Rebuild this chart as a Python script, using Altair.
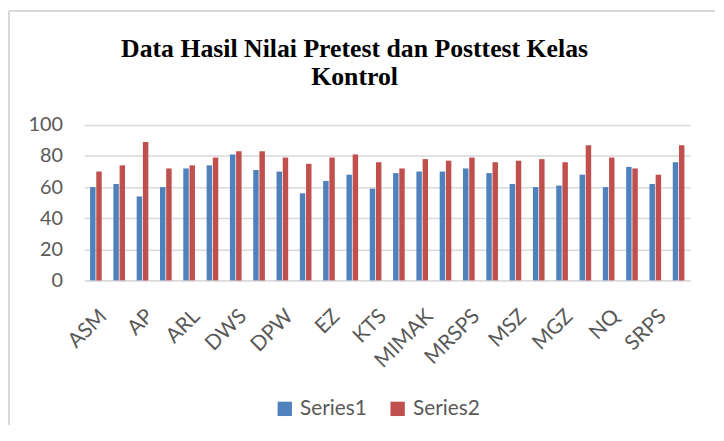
import altair as alt
import pandas as pd

labels = ["ASM", "", "AP", "", "ARL", "", "DWS", "", "DPW", "", "EZ", "", "KTS", "",
          "MIMAK", "", "MRSPS", "", "MSZ", "", "MGZ", "", "NQ", "", "SRPS", ""]
series1 = [60, 62, 54, 60, 72, 74, 81, 71, 70, 56, 64, 68, 59, 69, 70, 70, 72, 69, 62, 60, 61, 68, 60, 73, 62, 76]
series2 = [70, 74, 89, 72, 74, 79, 83, 83, 79, 75, 79, 81, 76, 72, 78, 77, 79, 76, 77, 78, 76, 87, 79, 72, 68, 87]
series_names = ["Series1", "Series2"]
colors = ["#4f81bd", "#c0504d"]
title_lines = ["Data Hasil Nilai Pretest dan Posttest Kelas", "Kontrol"]

rows = []
for i in range(len(labels)):
    rows.append({"No": i + 1, "Series": series_names[0], "Nilai": series1[i]})
    rows.append({"No": i + 1, "Series": series_names[1], "Nilai": series2[i]})
df = pd.DataFrame(rows)

W, H = 612, 157
label_expr = "[" + ",".join("'" + l + "'" for l in labels) + "][datum.value - 1]"

bars = alt.Chart(df).mark_bar().encode(
    x=alt.X("No:O",
            scale=alt.Scale(paddingInner=0.5, paddingOuter=0.25),
            axis=alt.Axis(title=None, labelAngle=-45, labelExpr=label_expr,
                          labelFont="Lato", labelFontSize=21, labelColor="#595959",
                          labelPadding=25, ticks=False, domainColor="#d9d9d9",
                          domainWidth=1.5, labelOverlap=False)),
    xOffset=alt.XOffset("Series:N", scale=alt.Scale(paddingInner=0.12)),
    y=alt.Y("Nilai:Q", scale=alt.Scale(domain=[0, 100], nice=False),
            axis=alt.Axis(title=None, values=[0, 20, 40, 60, 80, 100],
                          labelFont="Lato", labelFontSize=20, labelColor="#595959",
                          labelPadding=22, ticks=False, domain=False,
                          gridColor="#d9d9d9", gridWidth=1.5)),
    color=alt.Color("Series:N", scale=alt.Scale(domain=series_names, range=colors),
                    legend=alt.Legend(title=None, orient="none", direction="horizontal",
                                      legendX=192, legendY=276, symbolType="square",
                                      symbolSize=210, symbolStrokeWidth=0,
                                      labelFont="Lato", labelFontSize=21,
                                      labelColor="#595959", columnPadding=20,
                                      labelOffset=5, symbolOffset=0)),
)

one = pd.DataFrame({"a": [0]})
border_top = alt.Chart(one).mark_rule(color="#d9d9d9", strokeWidth=2).encode(
    x=alt.value(-76), x2=alt.value(637), y=alt.value(-115)
)
border_left = alt.Chart(one).mark_rule(color="#d9d9d9", strokeWidth=2).encode(
    x=alt.value(-76), y=alt.value(-115), y2=alt.value(303)
)
title_text = alt.Chart(one).mark_text(
    font="Liberation Serif", fontSize=26, fontWeight="bold", color="#000000",
    align="center", baseline="alphabetic", lineHeight=29,
).encode(x=alt.value(273), y=alt.value(-69), text=alt.value(title_lines))

chart = alt.layer(bars, border_top, border_left, title_text).properties(
    width=W, height=H, padding=0,
).configure_view(stroke=None)

chart.save("out.html", embed_options={"renderer": "svg", "actions": False})
